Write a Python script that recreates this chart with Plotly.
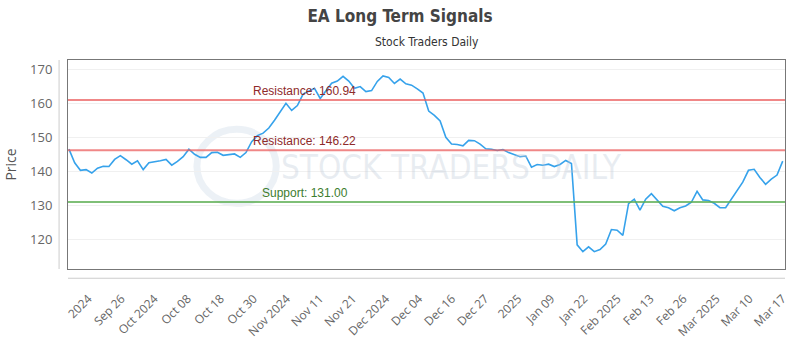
import plotly.graph_objects as go

prices = [
    146.5, 142.5, 140.3, 140.5, 139.5, 140.9, 141.5, 141.4, 143.5, 144.6,
    143.4, 142.1, 143.1, 140.5, 142.5, 142.7, 143.1, 143.5, 141.8, 142.9,
    144.3, 146.5, 145.0, 144.1, 144.1, 145.5, 145.6, 144.7, 145.0, 145.1,
    144.1, 145.5, 148.7, 150.5, 151.2, 152.7, 155.0, 157.7, 160.0, 157.9,
    159.3, 162.7, 163.5, 164.4, 161.4, 163.8, 165.9, 166.5, 167.9, 166.5,
    164.4, 164.9, 163.4, 163.7, 166.4, 168.0, 167.6, 165.8, 167.1, 165.7,
    165.3, 164.2, 163.0, 157.7, 156.4, 154.8, 150.0, 148.0, 147.9, 147.5,
    149.1, 149.0, 148.0, 146.6, 146.5, 146.1, 146.4, 145.5, 144.8, 144.3,
    144.5, 141.2, 142.0, 141.8, 142.1, 141.4, 142.0, 143.2, 142.3, 118.4,
    116.4, 117.8, 116.4, 117.0, 118.6, 122.9, 122.7, 121.2, 130.5, 131.8,
    128.6, 131.8, 133.4, 131.4, 129.7, 129.3, 128.4, 129.3, 129.8, 130.9,
    134.1, 131.6, 131.4, 130.6, 129.3, 129.3, 131.8, 134.1, 136.8, 140.3,
    140.6, 138.2, 136.2, 137.7, 138.9, 143.0,
]
tick_labels = [
    "2024", "Sep 26", "Oct 2024", "Oct 08", "Oct 18", "Oct 30", "Nov 2024",
    "Nov 11", "Nov 21", "Dec 2024", "Dec 04", "Dec 16", "Dec 27", "2025",
    "Jan 09", "Jan 22", "Feb 2025", "Feb 13", "Feb 26", "Mar 2025",
    "Mar 10", "Mar 17",
]
resistance_high = 160.94
resistance_low = 146.22
support = 131.00

COND = "DejaVu Sans Condensed, Roboto, sans-serif"

x_idx = list(range(len(prices)))
tick_start = 3.4
tick_step = 5.789
tickvals = [tick_start + tick_step * k for k in range(len(tick_labels))]

fig = go.Figure()

fig.add_trace(go.Scatter(
    x=x_idx, y=prices, mode="lines",
    line=dict(color="#36a2eb", width=1.6),
    hoverinfo="skip", showlegend=False,
))

for lvl, col in [(resistance_high, "rgba(235,95,95,0.75)"),
                 (resistance_low, "rgba(235,95,95,0.75)"),
                 (support, "rgba(95,175,85,0.8)")]:
    fig.add_shape(type="line", xref="paper", x0=0, x1=1, yref="y", y0=lvl, y1=lvl,
                  line=dict(color=col, width=2), layer="above")

x_mid = 41.3
fig.add_annotation(x=x_mid, y=resistance_high, text=f"Resistance: {resistance_high:.2f}",
                   showarrow=False, yshift=9, font=dict(family="Liberation Sans", size=12, color="#8e2a2a"))
fig.add_annotation(x=x_mid, y=resistance_low, text=f"Resistance: {resistance_low:.2f}",
                   showarrow=False, yshift=9, font=dict(family="Liberation Sans", size=12, color="#8e2a2a"))
fig.add_annotation(x=x_mid, y=support, text=f"Support: {support:.2f}",
                   showarrow=False, yshift=9, font=dict(family="Liberation Sans", size=12, color="#3d7d2e"))

# watermark
fig.add_annotation(xref="paper", yref="paper", x=(454 - 67) / 723, y=(286 - 176) / 226, text="STOCK TRADERS DAILY",
                   showarrow=False, font=dict(family=COND, size=33, color="rgba(190,202,216,0.35)"))
fig.add_shape(type="circle", xref="paper", yref="paper",
              x0=(197 - 67) / 723, x1=(277 - 67) / 723,
              y0=(286 - 215) / 226, y1=(286 - 135) / 226,
              line=dict(color="rgba(200,215,230,0.35)", width=7), layer="below")

# offset axis lines
fig.add_shape(type="line", xref="paper", yref="paper", x0=-9 / 723, x1=-9 / 723, y0=0, y1=1,
              line=dict(color="#cccccc", width=1))
fig.add_shape(type="line", xref="paper", yref="paper", x0=0, x1=1, y0=-10 / 226, y1=-10 / 226,
              line=dict(color="#cccccc", width=1))

fig.update_layout(
    width=800, height=350,
    margin=dict(l=67, r=10, t=60, b=64),
    paper_bgcolor="white", plot_bgcolor="white",
    title=dict(text="<b>EA Long Term Signals</b>", x=0.5, xanchor="center", y=0.955, yanchor="middle",
               font=dict(family=COND, size=17, color="#444444")),
    xaxis=dict(
        range=[-0.17, 125.4], tickvals=tickvals, ticktext=tick_labels, tickangle=-45,
        showgrid=False, zeroline=False, showline=True, mirror=True, linecolor="#777777", linewidth=1,
        ticks="outside", ticklen=17, tickcolor="rgba(0,0,0,0)",
        tickfont=dict(family="Open Sans", size=12, color="#666666"),
    ),
    yaxis=dict(
        range=[111.3, 172.7], tickvals=[120, 130, 140, 150, 160, 170],
        showgrid=True, gridcolor="#f0f0f0", zeroline=False, showline=True, mirror=True,
        linecolor="#777777", linewidth=1,
        ticks="outside", ticklen=12, tickcolor="rgba(0,0,0,0)",
        tickfont=dict(family="Open Sans", size=13, color="#666666"),
        title=dict(text="Price", font=dict(family="Open Sans", size=14, color="#555555"), standoff=10),
    ),
)
fig.add_annotation(xref="paper", yref="paper", x=0.5, xanchor="center", y=(350 - 40 - 64) / 226, yanchor="middle",
                   text="Stock Traders Daily", showarrow=False,
                   font=dict(family=COND, size=12, color="#333333"))

fig.write_html("out.html")
